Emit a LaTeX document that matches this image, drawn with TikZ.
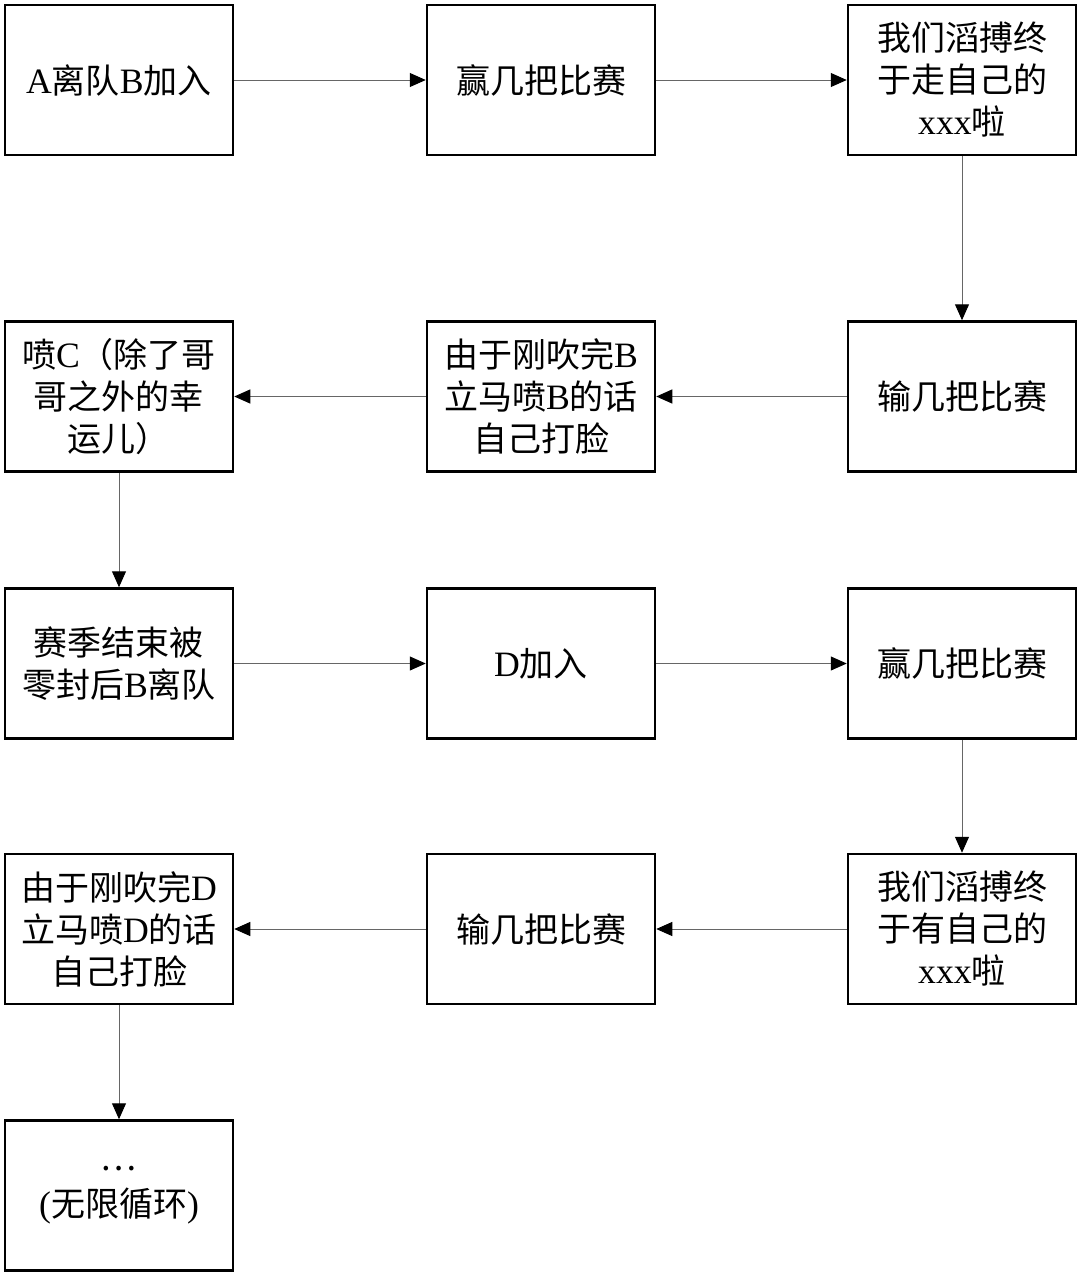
\documentclass[tikz,border=0pt]{standalone}
\usepackage{fontspec}
\usetikzlibrary{arrows.meta}
\newfontfamily\cjk{Noto Sans CJK SC}
\newfontfamily\latf[Scale=1.05]{Liberation Serif}
\newcommand\lt[1]{{\latf #1}}
\begin{document}
\begin{tikzpicture}[x=1pt,y=-1pt,
  box/.style={draw=black,line width=2.5pt,minimum width=228pt,minimum height=150pt,
    inner sep=0pt,align=center,font=\cjk\fontsize{34}{42}\selectfont},
  conn/.style={draw=black!60,line width=1pt,-{Triangle[length=16pt,width=14pt,color=black]}}]
\useasboundingbox[fill=white] (0,0) rectangle (1080,1275);
\node[box] (a1) at (119,80) {\lt{A}离队\lt{B}加入};
\node[box] (a2) at (541,80) {赢几把比赛};
\node[box] (a3) at (962,80) {我们滔搏终\\于走自己的\\\lt{xxx}啦};
\node[box] (b3) at (962,396.5) {输几把比赛};
\node[box] (b2) at (541,396.5) {由于刚吹完\lt{B}\\立马喷\lt{B}的话\\自己打脸};
\node[box] (b1) at (119,396.5) {喷\lt{C}（除了哥\\哥之外的幸\\运儿）};
\node[box] (c1) at (119,663.5) {赛季结束被\\零封后\lt{B}离队};
\node[box] (c2) at (541,663.5) {\lt{D}加入};
\node[box] (c3) at (962,663.5) {赢几把比赛};
\node[box] (d3) at (962,929) {我们滔搏终\\于有自己的\\\lt{xxx}啦};
\node[box] (d2) at (541,929) {输几把比赛};
\node[box] (d1) at (119,929) {由于刚吹完\lt{D}\\立马喷\lt{D}的话\\自己打脸};
\node[box,font=\cjk\fontsize{34}{46}\selectfont] (e1) at (119,1195.5) {…\\\lt{(}无限循环\lt{)}};
\draw[conn] (a1) -- (a2);
\draw[conn] (a2) -- (a3);
\draw[conn] (a3) -- (b3);
\draw[conn] (b3) -- (b2);
\draw[conn] (b2) -- (b1);
\draw[conn] (b1) -- (c1);
\draw[conn] (c1) -- (c2);
\draw[conn] (c2) -- (c3);
\draw[conn] (c3) -- (d3);
\draw[conn] (d3) -- (d2);
\draw[conn] (d2) -- (d1);
\draw[conn] (d1) -- (e1);
\end{tikzpicture}
\end{document}
